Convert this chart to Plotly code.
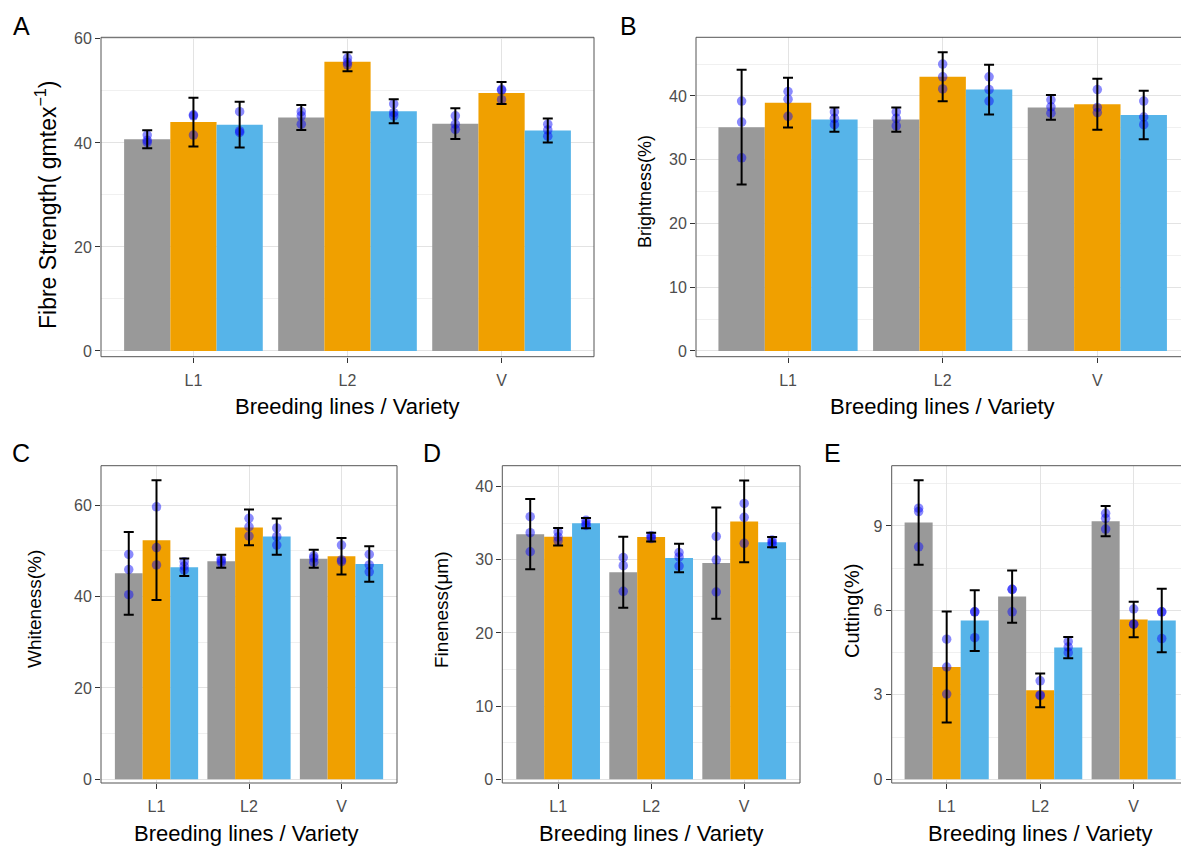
import plotly.graph_objects as go

# ---------------- data ----------------
categories = ["L1", "L2", "V"]
groups = ["Group 1", "Group 2", "Group 3"]
colors = ["#999999", "#F0A000", "#56B4E9"]

# Panel A: Fibre strength
A_mean = [[40.7, 44.9, 43.7], [44.0, 55.6, 49.6], [43.5, 46.1, 42.4]]
A_sd = [[1.75, 2.4, 2.95], [4.7, 1.85, 2.1], [4.4, 2.3, 2.3]]
A_pts = [
    [[41.5, 40.5, 40.1], [46.0, 45.2, 43.6], [45.2, 43.6, 42.6]],
    [[45.4, 45.2, 41.5], [56.3, 55.5, 55.0], [50.3, 50.1, 48.3]],
    [[46.0, 42.3, 42.0], [47.5, 45.8, 45.2], [43.6, 42.5, 41.3]],
]

# Panel B: Brightness
B_mean = [[35.1, 36.3, 38.2], [38.95, 43.0, 38.7], [36.3, 41.0, 37.0]]
B_sd = [[9.0, 1.9, 1.95], [3.9, 3.85, 4.0], [1.9, 3.9, 3.8]]
B_pts = [
    [[39.2, 35.9, 30.3], [37.5, 36.5, 35.3], [39.4, 38.3, 37.3]],
    [[40.7, 39.5, 36.8], [45.0, 43.0, 41.1], [41.0, 38.2, 37.4]],
    [[37.5, 36.5, 35.5], [43.0, 41.0, 39.2], [39.2, 36.7, 35.5]],
]

# Panel C: Whiteness
C_mean = [[45.05, 47.7, 48.25], [52.3, 55.1, 48.8], [46.4, 53.1, 47.1]]
C_sd = [[9.05, 1.4, 1.95], [13.1, 3.9, 4.0], [1.9, 3.95, 3.9]]
C_pts = [
    [[49.2, 45.9, 40.4], [48.2, 47.8, 47.3], [48.9, 48.4, 47.5]],
    [[59.6, 50.7, 46.9], [57.1, 55.25, 53.2], [51.25, 48.0, 47.6]],
    [[47.6, 46.65, 45.8], [55.0, 53.1, 51.25], [49.2, 46.9, 45.4]],
]

# Panel D: Fineness
D_mean = [[33.5, 28.3, 29.55], [33.15, 33.1, 35.25], [35.0, 30.25, 32.4]]
D_sd = [[4.8, 4.85, 7.6], [1.2, 0.6, 5.6], [0.7, 1.95, 0.7]]
D_pts = [
    [[35.9, 33.7, 31.1], [30.3, 29.2, 25.7], [33.2, 30.0, 25.6]],
    [[33.8, 33.1, 32.6], [33.3, 33.1, 32.9], [37.7, 35.8, 32.25]],
    [[35.4, 35.0, 34.7], [31.0, 30.4, 29.15], [32.7, 32.4, 32.1]],
]

# Panel E: Cutting
E_mean = [[9.12, 6.49, 9.17], [3.99, 3.16, 5.68], [5.64, 4.68, 5.64]]
E_sd = [[1.5, 0.93, 0.54], [1.97, 0.6, 0.63], [1.08, 0.38, 1.13]]
E_pts = [
    [[9.63, 9.51, 8.26], [6.75, 6.75, 5.95], [9.45, 9.27, 8.89]],
    [[4.98, 3.99, 3.03], [3.5, 3.0, 2.97], [6.05, 5.51, 5.51]],
    [[5.95, 5.95, 5.03], [4.9, 4.7, 4.5], [5.95, 5.95, 5.0]],
]

y_titles = ["Fibre Strength( gmtex<sup>−1</sup>)", "Brightness(%)", "Whiteness(%)",
            "Fineness(μm)", "Cutting(%)"]
x_title = "Breeding lines / Variety"
letters = ["A", "B", "C", "D", "E"]

# ---------------- layout geometry (pixels) ----------------
W, H = 1181, 846
FONT = "Liberation Sans, Arial, sans-serif"

panels = [
    dict(mean=A_mean, sd=A_sd, pts=A_pts, px=(101, 594), py=(37.3, 356.7),
         xr=(0.4, 3.6), yr=(-1.1, 60.3), dt=20, mdt=10,
         letter=(21, 26), xt=(347, 406), yt=(46, 205, 23)),
    dict(mean=B_mean, sd=B_sd, pts=B_pts, px=(696, 1181), py=(37.3, 356.7),
         xr=(0.405, 3.541), yr=(-0.9, 49.2), dt=10, mdt=5,
         letter=(628, 26), xt=(942, 406), yt=(645, 192, 18)),
    dict(mean=C_mean, sd=C_sd, pts=C_pts, px=(101, 397), py=(465.7, 783),
         xr=(0.4, 3.6), yr=(-0.8, 68.6), dt=20, mdt=10,
         letter=(21, 453), xt=(246, 833), yt=(34, 609, 19)),
    dict(mean=D_mean, sd=D_sd, pts=D_pts, px=(502.3, 800), py=(465.7, 783),
         xr=(0.4, 3.6), yr=(-0.5, 42.86), dt=10, mdt=5,
         letter=(432, 453), xt=(651, 833), yt=(441, 610, 19)),
    dict(mean=E_mean, sd=E_sd, pts=E_pts, px=(891.7, 1181), py=(465.7, 783),
         xr=(0.412, 3.506), yr=(-0.13, 11.14), dt=3, mdt=1.5,
         letter=(833, 453), xt=(1040, 833), yt=(852, 611, 20)),
]

fig = go.Figure()
annotations = []
shapes = []
xpos = [1, 2, 3]
offsets = [-0.3, 0.0, 0.3]

for k, p in enumerate(panels):
    n = k + 1
    xa = "x" if n == 1 else f"x{n}"
    ya = "y" if n == 1 else f"y{n}"
    # bars
    for j in range(3):
        fig.add_trace(go.Bar(
            x=xpos, y=p["mean"][j], name=groups[j], marker_color=colors[j],
            marker_line_width=0, xaxis=xa, yaxis=ya, showlegend=False,
            hoverinfo="skip"))
    # points
    for j in range(3):
        xs, ys = [], []
        for i in range(3):
            for v in p["pts"][j][i]:
                xs.append(xpos[i] + offsets[j])
                ys.append(v)
        fig.add_trace(go.Scatter(
            x=xs, y=ys, mode="markers", xaxis=xa, yaxis=ya, showlegend=False,
            marker=dict(size=9.5, color="rgba(10,10,250,0.48)", line_width=0),
            hoverinfo="skip"))
    # error bars (drawn on top)
    for j in range(3):
        fig.add_trace(go.Scatter(
            x=[xv + offsets[j] for xv in xpos], y=p["mean"][j], mode="markers",
            xaxis=xa, yaxis=ya, showlegend=False, hoverinfo="skip",
            marker=dict(size=1, opacity=0),
            error_y=dict(type="data", array=p["sd"][j], color="black",
                         thickness=2, width=5)))

    xd = [p["px"][0] / W, p["px"][1] / W]
    yd = [1 - p["py"][1] / H, 1 - p["py"][0] / H]
    fig.update_layout(**{
        ("xaxis" if n == 1 else f"xaxis{n}"): dict(
            domain=xd, range=list(p["xr"]), anchor=ya, automargin=False,
            tickvals=xpos, ticktext=categories, ticks="outside", ticklen=5,
            tickcolor="#333333", tickwidth=1, ticklabelstandoff=4,
            tickfont=dict(family=FONT, size=16, color="#4D4D4D"),
            showgrid=True, gridcolor="#E3E3E3", gridwidth=1,
            zeroline=False, showline=False, fixedrange=True),
        ("yaxis" if n == 1 else f"yaxis{n}"): dict(
            domain=yd, range=list(p["yr"]), anchor=xa, automargin=False,
            dtick=p["dt"], tick0=0, ticks="outside", ticklen=5,
            tickcolor="#333333", tickwidth=1,
            tickfont=dict(family=FONT, size=16, color="#4D4D4D"),
            showgrid=True, gridcolor="#E3E3E3", gridwidth=1,
            minor=dict(dtick=p["mdt"], tick0=0, showgrid=True,
                       gridcolor="#F0F0F0", gridwidth=0.8, ticks=""),
            zeroline=False, showline=False, fixedrange=True),
    })
    # panel border
    shapes.append(dict(type="rect", xref=f"{xa} domain", yref=f"{ya} domain",
                       x0=0, x1=1.03 if p["px"][1] >= W else 1, y0=0, y1=1,
                       line=dict(color="#555555", width=1), layer="above"))
    # panel letter
    annotations.append(dict(text=letters[k], x=p["letter"][0] / W,
                            y=1 - p["letter"][1] / H, xref="paper", yref="paper",
                            showarrow=False, xanchor="center", yanchor="middle",
                            font=dict(family=FONT, size=25, color="black")))
    # x title
    annotations.append(dict(text=x_title, x=p["xt"][0] / W, y=1 - p["xt"][1] / H,
                            xref="paper", yref="paper", showarrow=False,
                            xanchor="center", yanchor="middle",
                            font=dict(family=FONT, size=22, color="black")))
    # y title
    annotations.append(dict(text=y_titles[k], x=p["yt"][0] / W,
                            y=1 - p["yt"][1] / H, xref="paper", yref="paper",
                            showarrow=False, xanchor="center", yanchor="middle",
                            textangle=-90,
                            font=dict(family=FONT, size=p["yt"][2], color="black")))

fig.update_layout(
    width=W, height=H, margin=dict(l=0, r=0, t=0, b=0, autoexpand=False),
    paper_bgcolor="white", plot_bgcolor="white",
    barmode="group", bargap=0.1, bargroupgap=0,
    showlegend=False, annotations=annotations, shapes=shapes,
    font=dict(family=FONT),
)

fig.write_html("out.html", config={"displayModeBar": False},
               post_script="document.body.style.margin='0px';"
                           "document.body.style.overflow='hidden';")
